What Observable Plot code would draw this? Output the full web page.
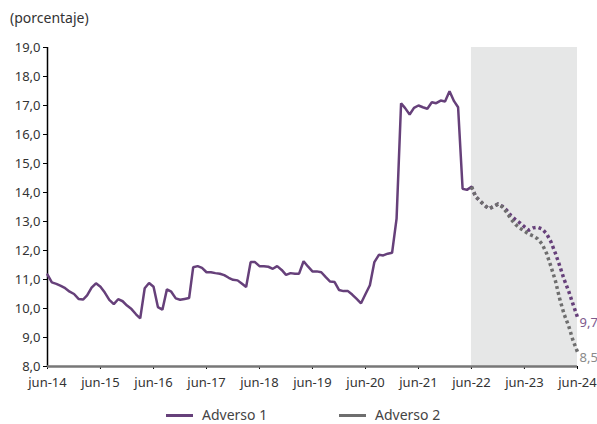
<!DOCTYPE html>
<html>
<head>
<meta charset="utf-8">
<script src="https://cdn.jsdelivr.net/npm/d3@7"></script>
<script src="https://cdn.jsdelivr.net/npm/@observablehq/plot@0.6"></script>
<style>
  body { margin: 0; background: #fff; font-family: "Noto Sans", sans-serif; }
  #wrap { position: relative; width: 597px; height: 424px; }
  #title { position: absolute; left: 10px; top: 8px; font-size: 14px; color: #333; }
  #legend { position: absolute; top: 407px; left: 0; width: 597px; height: 16px; font-size: 14px; line-height: 16px; color: #444; }
  .item { position: absolute; top: 0; display: flex; align-items: center; height: 16px; }
  .sw { width: 27px; height: 3px; margin-right: 9px; }
</style>
</head>
<body>
<div id="wrap">
  <div id="chart"></div>
  <div id="title">(porcentaje)</div>
  <div id="legend">
    <div class="item" style="left:166px"><span class="sw" style="background:#66407a"></span>Adverso 1</div>
    <div class="item" style="left:339px"><span class="sw" style="background:#6e6e6e"></span>Adverso 2</div>
  </div>
</div>
<script>
// Monthly history, jun-14 .. jun-22
const histStart = [2014, 5];
const adverso1Hist = [
  11.17, 10.9, 10.85, 10.78, 10.7, 10.58, 10.5, 10.33, 10.31, 10.45, 10.72, 10.87,
  10.75, 10.55, 10.3, 10.15, 10.32, 10.25, 10.1, 9.98, 9.8, 9.66, 10.7, 10.88,
  10.75, 10.05, 9.96, 10.66, 10.58, 10.35, 10.3, 10.33, 10.36, 11.42, 11.46, 11.4,
  11.25, 11.25, 11.22, 11.2, 11.15, 11.06, 10.99, 10.97, 10.85, 10.74, 11.6, 11.6,
  11.46, 11.46, 11.44, 11.37, 11.46, 11.33, 11.16, 11.22, 11.2, 11.2, 11.63, 11.45,
  11.28, 11.28, 11.25, 11.08, 10.93, 10.91, 10.64, 10.6, 10.6, 10.48, 10.33, 10.18,
  10.5, 10.8, 11.6, 11.85, 11.83, 11.89, 11.92, 13.1, 17.08, 16.91, 16.69, 16.92,
  17.0, 16.94, 16.89, 17.11, 17.08, 17.17, 17.14, 17.49, 17.15, 16.94, 14.13, 14.09,
  14.2
];
// Projections, monthly jun-22 .. jun-24
const projStart = [2022, 5];
const adverso1Proj = [
  14.2, 13.85, 13.7, 13.55, 13.44, 13.52, 13.6, 13.52, 13.38, 13.2, 13.06, 12.95,
  12.82, 12.7, 12.78, 12.8, 12.74, 12.58, 12.3, 11.9, 11.45, 11.0, 10.6, 10.15, 9.7
];
const adverso2Proj = [
  14.2, 13.85, 13.7, 13.55, 13.44, 13.52, 13.6, 13.5, 13.3, 13.08, 12.9, 12.77,
  12.67, 12.57, 12.5, 12.4, 12.22, 11.9, 11.45, 10.95, 10.3, 9.8, 9.4, 8.9, 8.5
];
const yTicks = [8, 9, 10, 11, 12, 13, 14, 15, 16, 17, 18, 19];
const xTickYears = [2014, 2015, 2016, 2017, 2018, 2019, 2020, 2021, 2022, 2023, 2024];
const endLabels = ["9,7", "8,5"];

const monthDate = (start, i) => new Date(Date.UTC(start[0], start[1] + i, 1));
const hist = adverso1Hist.map((v, i) => ({date: monthDate(histStart, i), v}));
const p1 = adverso1Proj.map((v, i) => ({date: monthDate(projStart, i), v}));
const p2 = adverso2Proj.map((v, i) => ({date: monthDate(projStart, i), v}));
const xTicks = xTickYears.map(y => new Date(Date.UTC(y, 5, 1)));
const x0 = xTicks[0], xEnd = xTicks[xTicks.length - 1], xProj = new Date(Date.UTC(2022, 5, 1));
const purple = "#66407a", gray = "#6e6e6e";
const ends = [
  {date: p1[p1.length - 1].date, v: adverso1Proj[adverso1Proj.length - 1], t: endLabels[0], c: "#7d5a8e"},
  {date: p2[p2.length - 1].date, v: adverso2Proj[adverso2Proj.length - 1], t: endLabels[1], c: "#8a8a8a"}
];

const chart = Plot.plot({
  width: 597,
  height: 400,
  marginTop: 47,
  marginBottom: 34,
  marginLeft: 47,
  marginRight: 20,
  style: {fontFamily: "Noto Sans, sans-serif", fontSize: "13px", color: "#333", background: "transparent"},
  x: {type: "utc", domain: [x0, xEnd]},
  y: {domain: [8, 19]},
  marks: [
    Plot.rect([0], {x1: () => xProj, x2: () => xEnd, y1: 8, y2: 19, fill: "#e6e7e7"}),
    Plot.axisY({ticks: yTicks, tickFormat: d => d.toFixed(1).replace(".", ","), tickSize: 4, tickPadding: 3, stroke: "#000", fontSize: 13, label: null}),
    Plot.axisX({ticks: xTicks, tickFormat: d => "jun-" + String(d.getUTCFullYear()).slice(2), tickSize: 3, tickPadding: 8, stroke: "#000", fontSize: 13, label: null}),
    Plot.ruleX([x0], {y1: 8, y2: 19, stroke: "#000", strokeWidth: 1.5}),
    Plot.ruleY([8], {stroke: "#777", strokeWidth: 2.5}),
    Plot.line(hist, {x: "date", y: "v", stroke: purple, strokeWidth: 2.5, strokeLinejoin: "miter"}),
    Plot.line(p1, {x: "date", y: "v", stroke: purple, strokeWidth: 3.5, strokeDasharray: "3,3", strokeLinecap: "butt"}),
    Plot.line(p2, {x: "date", y: "v", stroke: gray, strokeWidth: 3.5, strokeDasharray: "3,3", strokeLinecap: "butt"}),
    Plot.text(ends, {x: "date", y: "v", text: "t", fill: "c", textAnchor: "start", dx: 2, dy: 6, fontSize: 13})
  ]
});
document.getElementById("chart").appendChild(chart);
</script>
</body>
</html>
